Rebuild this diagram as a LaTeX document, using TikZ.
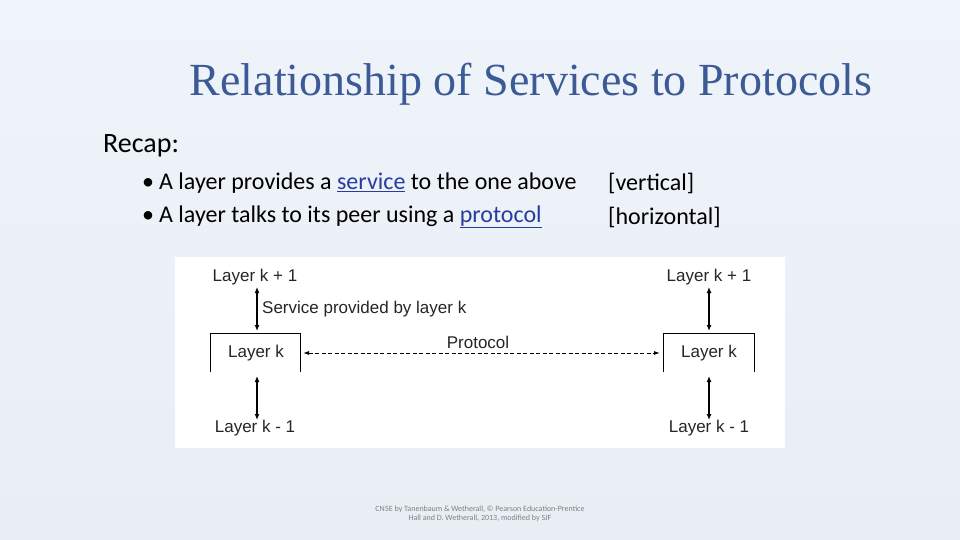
\documentclass[tikz,border=0pt]{standalone}
\usepackage{fontspec}
\setmainfont{Carlito}
\newfontfamily\titlefont{Liberation Serif}
\newfontfamily\diagfont{Liberation Sans}
\usetikzlibrary{arrows.meta}
\definecolor{titleblue}{RGB}{60,90,150}
\definecolor{linkblue}{RGB}{40,60,160}
\definecolor{bgtop}{RGB}{238,244,250}
\definecolor{bgbot}{RGB}{232,238,244}
\tikzset{
  lbl/.style={font=\diagfont\fontsize{17}{19}\selectfont, inner sep=0pt, text=black!85},
  varrow/.style={{Latex[length=6pt,width=5pt]}-{Latex[length=6pt,width=5pt]}, line width=1.4pt},
  bullet/.style={anchor=west, font=\fontsize{24}{28}\selectfont, inner sep=0pt}
}
\begin{document}
\begin{tikzpicture}[x=1pt,y=-1pt]
\useasboundingbox (0,0) rectangle (960,540);
\shade[top color=bgtop, bottom color=bgbot] (0,0) rectangle (960,540);
\node[font=\titlefont\fontsize{46}{50}\selectfont, text=titleblue] (title) at (531,84) {Relationship of Services to Protocols};
\node[anchor=west, font=\fontsize{28}{32}\selectfont, inner sep=0pt] (recap) at (103,146) {Recap:};
\node[bullet] (b1) at (142,183) {\textbullet\hspace{5pt}A layer provides a \textcolor{linkblue}{\underline{service}} to the one above};
\node[bullet] (b2) at (142,217) {\textbullet\hspace{5pt}A layer talks to its peer using a \textcolor{linkblue}{\underline{protocol}}};
\node[bullet] (v) at (608,183) {[vertical]};
\node[bullet] (h) at (608,217) {[horizontal]};
% diagram
\fill[white] (175,257) rectangle (785,448);
\draw[line width=0.8pt] (210,372) |- (300,333) -- (300,372);
\draw[line width=0.8pt] (663,372) |- (754,333) -- (754,372);
\node[lbl] (lk) at (256,353) {Layer k};
\node[lbl] (rk) at (709,353) {Layer k};
\node[lbl] (lu) at (255,277) {Layer k + 1};
\node[lbl] (ru) at (709,277) {Layer k + 1};
\node[lbl] (ld) at (255,428) {Layer k - 1};
\node[lbl] (rd) at (709,428) {Layer k - 1};
\node[lbl, anchor=west] (svc) at (262,309) {Service provided by layer k};
\node[lbl] (proto) at (478,342) {Protocol};
\draw[varrow] (257,287) -- (257,331);
\draw[varrow] (257,376) -- (257,420);
\draw[varrow] (709,287) -- (709,331);
\draw[varrow] (709,376) -- (709,420);
\draw[{Latex[length=6pt,width=4pt]}-{Latex[length=6pt,width=4pt]}, line width=1pt, dash pattern=on 4pt off 2.5pt] (303,353) -- (660,353);
\node[font=\fontsize{8}{9.5}\selectfont, text=gray, align=center] (foot) at (480,514) {CN5E by Tanenbaum \& Wetherall, © Pearson Education-Prentice\\Hall and D. Wetherall, 2013, modified by SJF};
\end{tikzpicture}
\end{document}
